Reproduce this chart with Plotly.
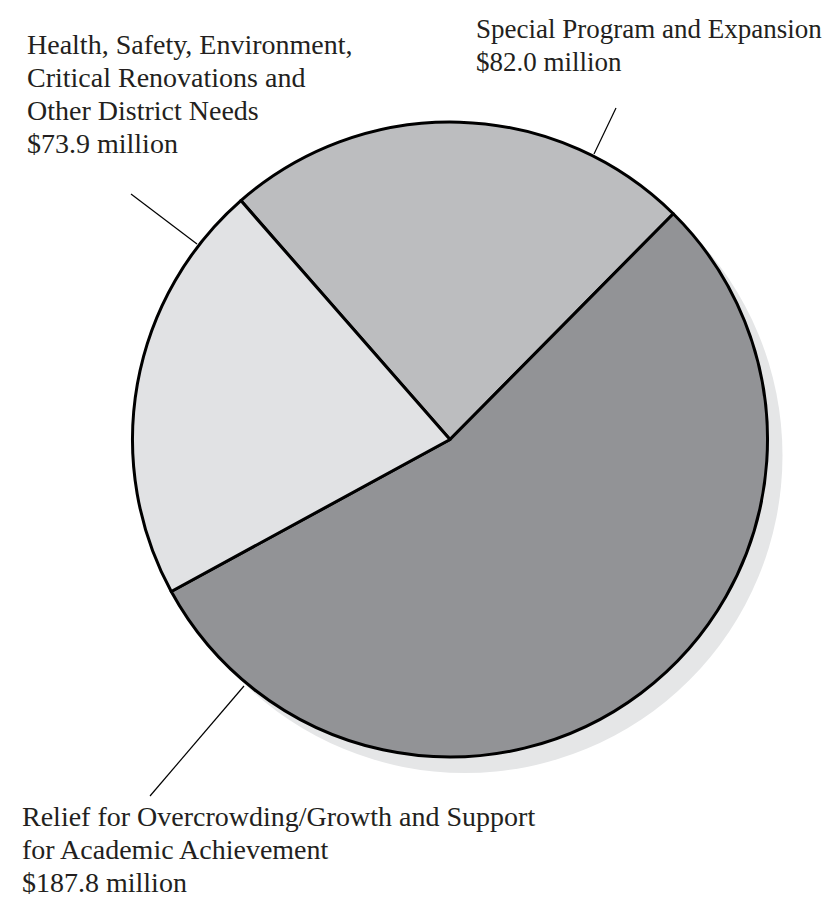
import plotly.graph_objects as go

W, H = 838, 899

# Data
categories = [
    "Special Program and Expansion",
    "Relief for Overcrowding/Growth and Support for Academic Achievement",
    "Health, Safety, Environment, Critical Renovations and Other District Needs",
]
values = [82.0, 187.8, 73.9]
label_lines = [
    ["Special Program and Expansion", "$82.0 million"],
    ["Relief for Overcrowding/Growth and Support", "for Academic Achievement", "$187.8 million"],
    ["Health, Safety, Environment,", "Critical Renovations and", "Other District Needs", "$73.9 million"],
]
colors = ["#bcbdbf", "#929396", "#e1e2e4"]

# Layout geometry (pixels)
CX, CY, R = 442, 431.5, 317.5
SHX, SHY = 15, 16

def px_domain(cx, cy, r):
    return dict(x=[(cx - r) / W, (cx + r) / W], y=[1 - (cy + r) / H, 1 - (cy - r) / H])

fig = go.Figure()
# shadow
fig.add_trace(go.Pie(values=[1], labels=["shadow"], marker=dict(colors=["#e5e6e7"], line=dict(width=0)),
                     textinfo="none", hoverinfo="skip", sort=False, showlegend=False,
                     domain=px_domain(CX + SHX, CY + SHY, R)))
fig.add_trace(go.Pie(values=values, labels=categories, sort=False, direction="clockwise", rotation=-41.2,
                     marker=dict(colors=colors, line=dict(color="#000000", width=3)),
                     textinfo="none", hoverinfo="label+value", showlegend=False,
                     domain=px_domain(CX, CY, R)))

LINE = 33
# (left x, first baseline y, font size) per label
label_pos = [(466, 37, 27), (12, 825, 28), (17, 53, 28)]
for lines, (x, yb, fs) in zip(label_lines, label_pos):
    font = dict(family="Liberation Serif, Times New Roman, serif", size=fs, color="#231f20")
    for i, ln in enumerate(lines):
        base = yb + i * LINE
        top = base - 0.891 * fs - 9
        fig.add_annotation(text=ln, x=x / W, y=1 - top / H, xref="paper", yref="paper",
                           xanchor="left", yanchor="top", align="left", showarrow=False,
                           font=font, borderpad=1)

leaders = [((608, 100), (586, 146)), ((142, 788), (236, 678)), ((123, 186), (189, 236))]
for (x0, y0), (x1, y1) in leaders:
    fig.add_shape(type="line", xref="paper", yref="paper",
                  x0=x0 / W, y0=1 - y0 / H, x1=x1 / W, y1=1 - y1 / H,
                  line=dict(color="#000000", width=1.2))

fig.update_layout(width=W, height=H, margin=dict(l=0, r=0, t=0, b=0),
                  paper_bgcolor="white", plot_bgcolor="white", showlegend=False)
fig.write_html("out.html")
